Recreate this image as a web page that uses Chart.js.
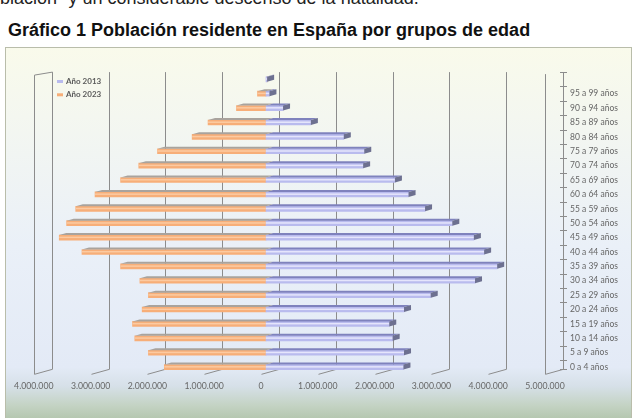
<!DOCTYPE html>
<html>
<head>
<meta charset="utf-8">
<script src="https://cdn.jsdelivr.net/npm/chart.js"></script>
<style>
  html, body { margin: 0; padding: 0; width: 638px; height: 418px; overflow: hidden; background: #fff; }
  body { position: relative; font-family: "Liberation Sans", Arial, sans-serif; }
  #intro { position: absolute; left: -20px; top: -11px; font-size: 18px; line-height: 18px; color: #222; white-space: nowrap; }
  #title { position: absolute; left: 8px; top: 20px; font-size: 18px; font-weight: bold; color: #111; white-space: nowrap; }
  #box {
    position: absolute; left: 5px; top: 47px; width: 625px; height: 380px;
    border: 1px solid #b9bdaa;
    background: linear-gradient(to bottom, #f9faeb 0%, #f4f7f0 18%, #eaf0f8 52%, #e3eaf6 84%, #d6e0e8 89%, #c4d3c4 94%, #a9bea0 100%);
  }
  #wrap { position: absolute; left: 5px; top: 47px; width: 627px; height: 371px; }
</style>
</head>
<body>
<div id="intro">población" y un considerable descenso de la natalidad.</div>
<div id="title">Gráfico 1 Población residente en España por grupos de edad</div>
<div id="box"></div>
<div id="wrap"><canvas id="pyramid" width="627" height="371"></canvas></div>
<script>
// age groups, top to bottom (first row has no label in the original)
const ageGroups = [
  "", "95 a 99 años", "90 a 94 años", "85 a 89 años", "80 a 84 años",
  "75 a 79 años", "70 a 74 años", "65 a 69 años", "60 a 64 años",
  "55 a 59 años", "50 a 54 años", "45 a 49 años", "40 a 44 años",
  "35 a 39 años", "30 a 34 años", "25 a 29 años", "20 a 24 años",
  "15 a 19 años", "10 a 14 años", "5 a 9 años", "0 a 4 años",
];
// residents
const year2013 = [
  20000, 60000, 300000, 790000, 1370000, 1730000, 1710000, 2270000,
  2510000, 2800000, 3280000, 3660000, 3840000, 4070000, 3680000,
  2900000, 2430000, 2170000, 2230000, 2430000, 2420000,
];
const year2023 = [
  0, 150000, 520000, 1020000, 1300000, 1910000, 2240000, 2560000,
  3010000, 3350000, 3510000, 3640000, 3240000, 2560000, 2220000,
  2070000, 2180000, 2350000, 2310000, 2070000, 1790000,
];
const axisMin = -4000000;
const axisMax = 5000000;

const fmt = (v) => String(Math.round(v)).replace(/\B(?=(\d{3})+(?!\d))/g, ".");

// depth offsets used to fake the 3D look
const wallDx = 13, wallDy = 5, frontDx = 5;
const barDx = 7, barDy = 2;

const boxPlugin = {
  id: "box3d",
  beforeDatasetsDraw(chart) {
    const { ctx, chartArea, scales } = chart;
    const xs = scales.x;
    const top = chartArea.top, bottom = chartArea.bottom;
    ctx.save();
    ctx.strokeStyle = "#8c8c8c";
    ctx.lineWidth = 1;
    for (let v = axisMin; v <= axisMax; v += 1000000) {
      const px = Math.round(xs.getPixelForValue(v));
      ctx.beginPath();
      ctx.moveTo(px + wallDx + 0.5, top);
      ctx.lineTo(px + wallDx + 0.5, bottom - wallDy);
      ctx.lineTo(px - frontDx + 0.5, bottom);
      ctx.stroke();
    }
    // side walls
    const l = Math.round(xs.getPixelForValue(axisMin));
    const r = Math.round(xs.getPixelForValue(axisMax));
    ctx.beginPath();
    ctx.moveTo(l - frontDx + 0.5, bottom);
    ctx.lineTo(l - frontDx + 0.5, top + 3);
    ctx.lineTo(l + wallDx + 0.5, top);
    ctx.moveTo(r - frontDx + 0.5, bottom);
    ctx.lineTo(r - frontDx + 0.5, top + 2);
    ctx.stroke();
    // category axis on the back right edge
    const n = chart.data.labels.length;
    const step = (bottom - top) / n;
    ctx.beginPath();
    ctx.moveTo(r + wallDx + 0.5, top);
    ctx.lineTo(r + wallDx + 0.5, bottom - wallDy);
    for (let i = 0; i <= n; i++) {
      const y = Math.round(top + i * step - (i === n ? wallDy : 0)) + 0.5;
      ctx.moveTo(r + wallDx - 3, y);
      ctx.lineTo(r + wallDx + 4, y);
    }
    ctx.stroke();
    ctx.restore();
  },
  afterDatasetsDraw(chart) {
    const { ctx } = chart;
    ctx.save();
    chart.data.datasets.forEach((ds, di) => {
      const meta = chart.getDatasetMeta(di);
      meta.data.forEach((bar) => {
        const xl = Math.min(bar.x, bar.base), xr = Math.max(bar.x, bar.base);
        const yt = bar.y - bar.height / 2, yb = bar.y + bar.height / 2;
        if (xr - xl < 0.5 && di === 1) return;
        // top face
        ctx.fillStyle = ds.topColor;
        ctx.beginPath();
        ctx.moveTo(xl, yt);
        ctx.lineTo(xr, yt);
        ctx.lineTo(xr + barDx, yt - barDy);
        ctx.lineTo(xl + barDx, yt - barDy);
        ctx.closePath();
        ctx.fill();
        // shine on the front
        ctx.fillStyle = ds.shineColor;
        ctx.fillRect(xl, bar.y - 1, xr - xl, 1.5);
        // end cap on the right
        if (di === 0) {
          ctx.fillStyle = ds.capColor;
          ctx.beginPath();
          ctx.moveTo(xr, yt);
          ctx.lineTo(xr + barDx, yt - barDy);
          ctx.lineTo(xr + barDx, yb - barDy);
          ctx.lineTo(xr, yb);
          ctx.closePath();
          ctx.fill();
        }
      });
    });
    ctx.restore();
  },
  afterDraw(chart) {
    // legend in the top left corner
    const { ctx } = chart;
    ctx.save();
    ctx.font = "bold 8px Lato, sans-serif";
    ctx.textBaseline = "middle";
    chart.data.datasets.forEach((ds, i) => {
      const y = 34.5 + i * 13.3;
      ctx.fillStyle = ds.backgroundColor;
      ctx.fillRect(52, y - 1.5, 6, 3);
      ctx.fillStyle = "#5a5a5a";
      ctx.fillText(ds.label, 61, y);
    });
    ctx.restore();
  },
};

new Chart(document.getElementById("pyramid").getContext("2d"), {
  type: "bar",
  data: {
    labels: ageGroups,
    datasets: [
      {
        label: "Año 2013",
        data: year2013,
        backgroundColor: "#b9bbee",
        topColor: "#7f82bd",
        shineColor: "rgba(240,240,255,0.8)",
        capColor: "#6d7090",
        barThickness: 5,
      },
      {
        label: "Año 2023",
        data: year2023.map((v) => -v),
        backgroundColor: "#f7ae78",
        topColor: "#a9a39d",
        shineColor: "rgba(252,205,165,0.9)",
        barThickness: 5,
      },
    ],
  },
  options: {
    indexAxis: "y",
    responsive: false,
    animation: false,
    layout: { padding: { left: 33.8, top: 8.7, right: 0, bottom: 0 } },
    plugins: { legend: { display: false }, tooltip: { enabled: false } },
    scales: {
      x: {
        type: "linear",
        min: axisMin,
        max: axisMax,
        stacked: true,
        afterFit: (s) => { s.height = 43.7; },
        grid: { display: false, drawTicks: false },
        border: { display: false },
        ticks: {
          stepSize: 1000000,
          includeBounds: false,
          autoSkip: false,
          maxRotation: 0,
          padding: 7,
          labelOffset: -5,
          color: "#666",
          font: { family: "Lato", size: 8.7 },
          callback: (v) => fmt(Math.abs(v)),
        },
      },
      y: {
        type: "category",
        position: "right",
        stacked: true,
        afterFit: (s) => { s.width = 82; },
        grid: { display: false, drawTicks: false },
        border: { display: false },
        ticks: {
          autoSkip: false,
          padding: 20,
          color: "#666",
          font: { family: "Lato", size: 8.5 },
        },
      },
    },
  },
  plugins: [boxPlugin],
});
</script>
</body>
</html>
